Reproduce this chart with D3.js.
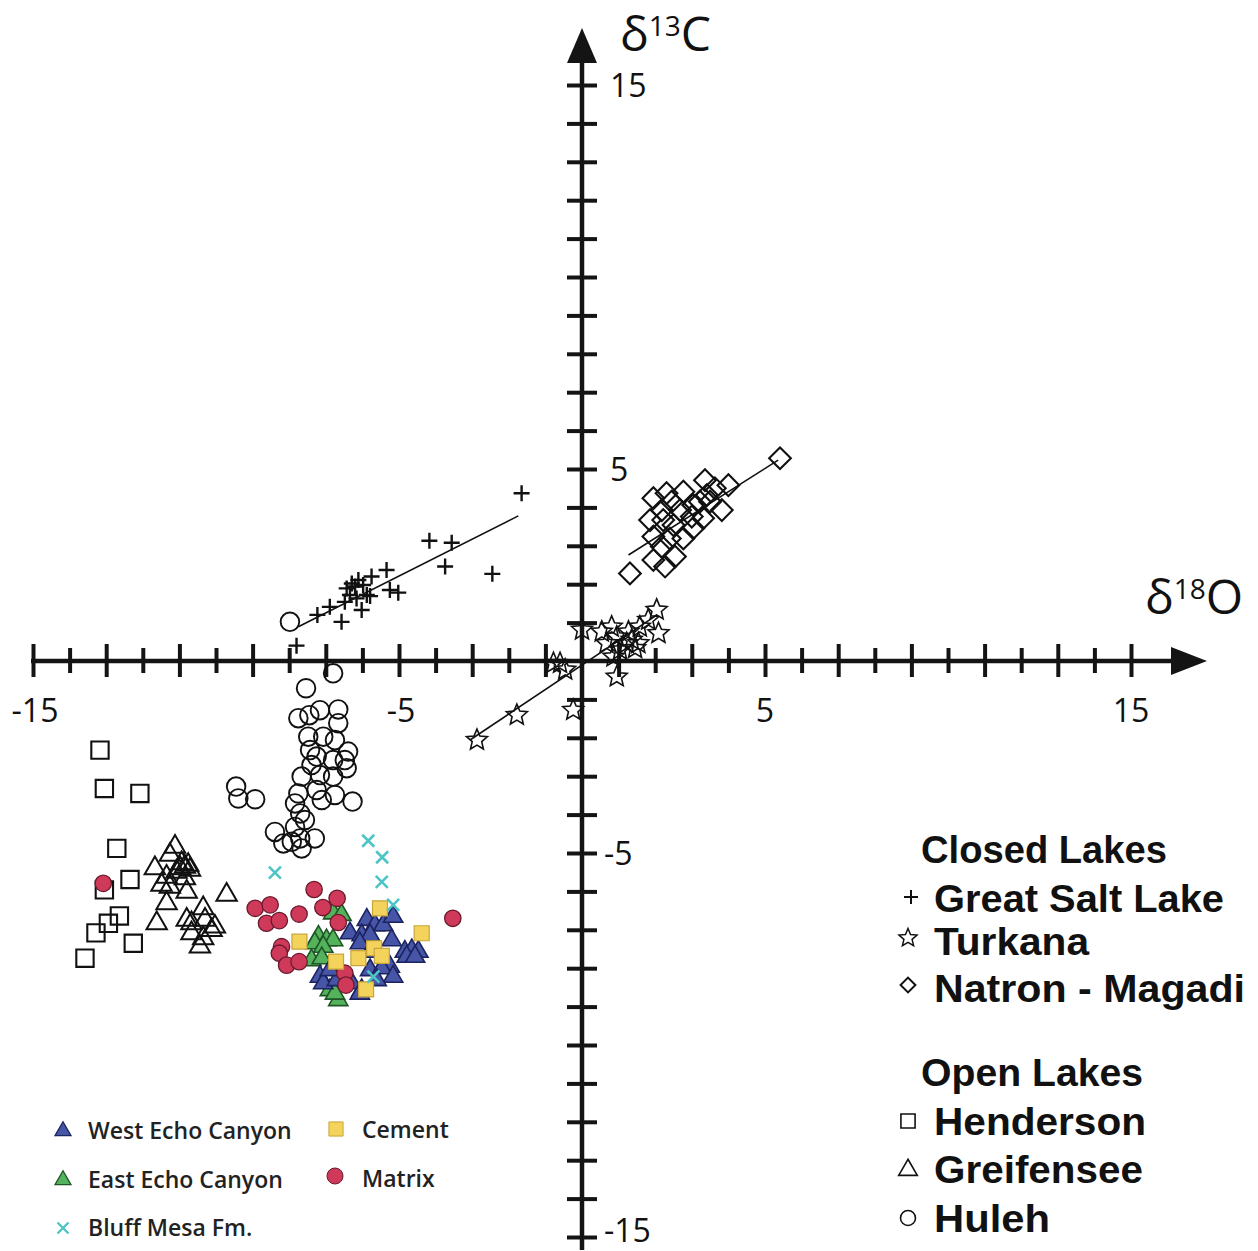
<!DOCTYPE html>
<html><head><meta charset="utf-8">
<script src="https://cdn.jsdelivr.net/npm/d3@7"></script>
<style>html,body{margin:0;padding:0;background:#fff;} svg{display:block;}</style>
</head><body>
<svg id="chart" width="1258" height="1251"></svg>
<script>
// ---------------- DATA (δ18O, δ13C) ----------------
const greatSaltLake = [[-1.65,4.37],[-4.17,3.13],[-3.56,3.08],[-3.74,2.46],[-2.45,2.27],[-5.34,2.37],[-5.75,2.20],[-6.11,2.11],[-6.43,1.89],[-6.20,1.94],[-5.98,1.98],[-5.88,1.72],[-6.34,1.72],[-6.16,1.63],[-6.48,1.54],[-6.02,1.33],[-5.25,1.85],[-5.02,1.78],[-6.89,1.41],[-7.23,1.20],[-6.57,1.02],[-7.80,0.40],[-6.29,2.02],[-5.79,1.69]];
const gslLine = [[-7.75,0.89],[-1.74,3.78]];

const turkana = [[2.04,1.33],[2.09,0.72],[1.81,1.07],[1.58,0.89],[1.54,0.46],[1.27,0.76],[1.22,0.46],[0.95,0.63],[0.81,0.89],[0.67,0.46],[1.04,0.29],[0.86,0.11],[0.54,0.76],[0.0,0.81],[0.95,-0.41],[-0.24,-1.28],[-0.60,-0.06],[-0.78,-0.06],[-0.46,-0.23],[1.36,0.55],[1.45,0.33],[-1.78,-1.41],[-2.87,-2.06]];
const turkanaLine = [[-3.05,-2.05],[2.05,1.2]];

const natron = [[5.41,5.28],[4.0,4.58],[3.36,4.71],[3.63,4.50],[3.82,3.93],[3.41,4.32],[3.22,4.15],[3.04,4.06],[2.77,4.41],[2.31,4.37],[1.95,4.24],[2.45,4.15],[2.18,3.93],[2.68,3.93],[3.0,3.76],[3.31,3.72],[1.86,3.67],[2.22,3.67],[2.50,3.54],[3.04,3.46],[1.95,3.24],[2.40,3.19],[2.77,3.19],[2.18,2.98],[1.95,2.63],[2.27,2.46],[2.54,2.72],[1.31,2.28],[3.5,4.15]];
const natronLine = [[1.27,2.76],[5.36,5.23]];

const henderson = [[-13.17,-2.32],[-13.05,-3.32],[-12.08,-3.45],[-12.71,-4.88],[-12.35,-5.69],[-13.05,-5.96],[-12.64,-6.64],[-12.94,-6.83],[-13.28,-7.08],[-12.26,-7.35],[-13.58,-7.74]];

const greifensee = [[-11.12,-4.84],[-11.26,-5.05],[-11.67,-5.40],[-10.94,-5.27],[-10.85,-5.36],[-10.76,-5.31],[-11.08,-5.49],[-11.35,-5.62],[-11.49,-5.83],[-10.85,-5.66],[-11.26,-5.88],[-10.80,-6.01],[-11.35,-6.31],[-9.71,-6.09],[-11.62,-6.83],[-10.80,-6.74],[-10.67,-6.83],[-10.35,-6.44],[-10.30,-6.74],[-10.12,-7.01],[-10.03,-6.92],[-10.35,-7.22],[-10.44,-7.44],[-10.67,-7.09],[-10.98,-5.40],[-10.71,-5.44]];

const huleh = [[-7.98,1.02],[-6.80,-0.32],[-7.54,-0.71],[-7.75,-1.49],[-7.45,-1.41],[-7.16,-1.28],[-6.66,-1.26],[-6.66,-1.62],[-7.48,-1.97],[-7.07,-1.97],[-6.75,-2.06],[-7.43,-2.32],[-6.39,-2.36],[-7.25,-2.49],[-6.80,-2.58],[-6.48,-2.58],[-7.39,-2.71],[-6.43,-2.79],[-7.66,-3.01],[-7.16,-2.97],[-6.80,-3.01],[-9.45,-3.27],[-9.39,-3.58],[-8.93,-3.60],[-7.75,-3.45],[-7.25,-3.36],[-7.11,-3.62],[-6.75,-3.49],[-6.27,-3.66],[-7.84,-3.71],[-7.70,-3.97],[-7.57,-4.14],[-8.39,-4.45],[-8.16,-4.75],[-7.93,-4.71],[-7.70,-4.62],[-7.30,-4.62],[-7.84,-4.32],[-7.66,-4.88]];

const bluffMesa = [[-5.84,-4.68],[-5.46,-5.11],[-5.47,-5.75],[-5.16,-6.35],[-8.39,-5.51],[-5.70,-8.22]];

const matrix = [[-13.08,-5.79],[-7.32,-5.95],[-6.69,-6.18],[-7.08,-6.42],[-7.73,-6.59],[-6.66,-6.81],[-8.93,-6.44],[-8.52,-6.35],[-8.62,-6.83],[-8.27,-6.76],[-3.53,-6.70],[-8.21,-7.44],[-8.27,-7.61],[-8.07,-7.92],[-7.73,-7.83],[-6.48,-8.13],[-6.45,-8.44]];

const cement = [[-5.52,-6.44],[-4.38,-7.09],[-7.72,-7.31],[-5.68,-7.48],[-6.11,-7.74],[-5.47,-7.68],[-6.72,-7.83],[-5.90,-8.55]];

const westEcho = [[-5.88,-6.74],[-5.66,-6.88],[-5.43,-6.88],[-5.16,-6.66],[-6.34,-7.09],[-6.02,-7.14],[-5.20,-7.27],[-5.79,-7.14],[-6.07,-7.35],[-4.84,-7.57],[-4.65,-7.53],[-4.47,-7.57],[-4.79,-7.70],[-4.56,-7.70],[-5.25,-7.96],[-5.79,-8.05],[-5.47,-8.00],[-5.16,-8.22],[-7.16,-8.22],[-7.07,-8.39],[-6.70,-8.31],[-6.89,-8.05],[-6.29,-8.39],[-6.02,-8.57],[-6.07,-8.66],[-5.61,-8.31],[-5.79,-7.57]];

const eastEcho = [[-6.80,-6.57],[-6.57,-6.61],[-7.20,-7.18],[-6.98,-7.27],[-6.80,-7.27],[-7.30,-7.35],[-7.07,-7.44],[-7.39,-7.79],[-7.11,-7.74],[-6.89,-8.57],[-6.66,-8.83],[-6.75,-8.66]];

const xTickValues = d3.range(-15, 16).filter(d => d !== 0);
const yTickValues = d3.range(-15, 16).filter(d => d !== 0);
const xTickLabels = [-15, -5, 5, 15];
const yTickLabels = [15, 5, -5, -15];

const closedLakesTitle = "Closed Lakes";
const closedLakesLabels = ["Great Salt Lake", "Turkana", "Natron - Magadi"];
const openLakesTitle = "Open Lakes";
const openLakesLabels = ["Henderson", "Greifensee", "Huleh"];
const sampleLabelsLeft = ["West Echo Canyon", "East Echo Canyon", "Bluff Mesa Fm."];
const sampleLabelsRight = ["Cement", "Matrix"];

// ---------------- CHART ----------------
const svg = d3.select("#chart");
const x = d3.scaleLinear().domain([-15, 15]).range([33, 1131]);
const y = d3.scaleLinear().domain([-15, 15]).range([1237, 85]);
const x0 = x(0), y0 = y(0);
const AX = "#141414";
const FONT = "'Open Sans', 'Noto Sans', sans-serif";
const LFONT = "'Liberation Sans', Arial, sans-serif";

// X axis
const xg = svg.append("g").attr("transform", `translate(0,${y0})`)
  .call(d3.axisBottom(x).tickValues(xTickValues).tickFormat("").tickSizeOuter(0));
xg.select(".domain").remove();
xg.selectAll(".tick line")
  .attr("y1", d => (d % 2 ? -17 : -13)).attr("y2", d => (d % 2 ? 16 : 12))
  .attr("stroke", AX).attr("stroke-width", 4);
svg.append("line").attr("x1", x(-15) - 2).attr("x2", x(15) + 50)
  .attr("y1", y0).attr("y2", y0).attr("stroke", AX).attr("stroke-width", 4.5);
svg.append("path")
  .attr("d", `M${x(15) + 76},${y0}L${x(15) + 40},${y0 - 14}L${x(15) + 40},${y0 + 14}Z`)
  .attr("fill", AX);

// Y axis
const yg = svg.append("g").attr("transform", `translate(${x0},0)`)
  .call(d3.axisLeft(y).tickValues(yTickValues).tickFormat("").tickSizeOuter(0));
yg.select(".domain").remove();
yg.selectAll(".tick line")
  .attr("x1", -15).attr("x2", 15)
  .attr("stroke", AX).attr("stroke-width", 4);
svg.append("line").attr("x1", x0).attr("x2", x0)
  .attr("y1", y(15) - 30).attr("y2", y(-15) + 13).attr("stroke", AX).attr("stroke-width", 4.5);
svg.append("path")
  .attr("d", `M${x0},${y(15) - 57}L${x0 - 15},${y(15) - 22}L${x0 + 15},${y(15) - 22}Z`)
  .attr("fill", AX);

// Tick labels
svg.append("g").selectAll("text").data(xTickLabels).join("text")
  .attr("x", d => x(d) + (d < 0 ? 2 : 0)).attr("y", y0 + 61)
  .attr("text-anchor", "middle").attr("font-family", FONT).attr("font-size", 32)
  .attr("fill", "#111").text(d => d);
svg.append("g").selectAll("text").data(yTickLabels).join("text")
  .attr("x", d => x0 + (d < 0 ? 22 : 28)).attr("y", d => Math.min(y(d) + 12, 1242))
  .attr("text-anchor", "start").attr("font-family", FONT).attr("font-size", 32)
  .attr("fill", "#111").text(d => d);

// Axis titles
function axisTitle(px, py, sup, letter) {
  const t = svg.append("text").attr("x", px).attr("y", py)
    .attr("font-family", FONT).attr("font-size", 48).attr("fill", "#111");
  t.append("tspan").text("δ");
  t.append("tspan").attr("dy", -15).attr("font-size", 28).text(sup);
  t.append("tspan").attr("dy", 15).text(letter);
}
axisTitle(620, 51, "13", "C");
axisTitle(1145, 614, "18", "O");

// Regression lines
const line = d3.line().x(d => x(d[0])).y(d => y(d[1]));
[gslLine, turkanaLine, natronLine].forEach(l =>
  svg.append("path").attr("d", line(l)).attr("fill", "none")
    .attr("stroke", "#111").attr("stroke-width", 1.6));

// Marker shapes
function starPath(R, r) {
  let p = "";
  for (let i = 0; i < 10; i++) {
    const a = -Math.PI / 2 + i * Math.PI / 5, rad = i % 2 ? r : R;
    p += (i ? "L" : "M") + (rad * Math.cos(a)).toFixed(2) + "," + (rad * Math.sin(a)).toFixed(2);
  }
  return p + "Z";
}
const plusPath = s => `M${-s},0H${s}M0,${-s}V${s}`;
const crossPath = s => `M${-s},${-s}L${s},${s}M${-s},${s}L${s},${-s}`;
const triPath = s => d3.symbol(d3.symbolTriangle, s)();
const sqPath = s => d3.symbol(d3.symbolSquare, s)();

function drawPaths(data, d, fill, stroke, sw, rot) {
  svg.append("g").selectAll("path").data(data).join("path")
    .attr("transform", p => `translate(${x(p[0])},${y(p[1])})${rot ? " rotate(45)" : ""}`)
    .attr("d", d).attr("fill", fill).attr("stroke", stroke).attr("stroke-width", sw);
}
function drawCircles(data, r, fill, stroke, sw) {
  svg.append("g").selectAll("circle").data(data).join("circle")
    .attr("cx", p => x(p[0])).attr("cy", p => y(p[1])).attr("r", r)
    .attr("fill", fill).attr("stroke", stroke).attr("stroke-width", sw);
}

// Open-lake / closed-lake data
drawPaths(greatSaltLake, plusPath(8), "none", "#111", 2.4);
drawPaths(turkana, starPath(11, 5), "none", "#111", 1.6);
drawPaths(natron, sqPath(235), "none", "#111", 2.1, true);
drawPaths(henderson, sqPath(300), "none", "#111", 2.1);
drawPaths(greifensee, triPath(180), "none", "#111", 2.0);
drawCircles(huleh, 9.3, "none", "#111", 1.9);

// Sample data
const BLUE = "#4655a6", BLUE_S = "#1b2360";
const GREEN = "#55b25c", GREEN_S = "#1e5626";
const YEL = "#f3d35c", YEL_S = "#c9a53a";
const RED = "#cf3a5a", RED_S = "#6a1a2c";
const CYAN = "#4ec4c6";
drawPaths(eastEcho, triPath(160), GREEN, GREEN_S, 1.6);
drawPaths(westEcho, triPath(160), BLUE, BLUE_S, 1.6);
drawCircles(matrix, 8.2, RED, RED_S, 1.3);
drawPaths(cement, sqPath(225), YEL, YEL_S, 1.2);
drawPaths(bluffMesa, crossPath(6), "none", CYAN, 2.6);

// ---------------- LEGENDS ----------------
// Right legend
const rl = svg.append("g");
const bold = (t, px, py, w) => rl.append("text").attr("x", px).attr("y", py)
  .attr("font-family", LFONT).attr("font-weight", 700).attr("font-size", 38)
  .attr("fill", "#111").attr("textLength", w).attr("lengthAdjust", "spacingAndGlyphs").text(t);
bold(closedLakesTitle, 921, 863, 246);
const closedW = [290, 155, 311];
const closedY = [912, 955, 1002];
closedLakesLabels.forEach((t, i) => bold(t, 934, closedY[i], closedW[i]));
bold(openLakesTitle, 921, 1086, 222);
const openW = [212, 209, 116];
const openY = [1135, 1183, 1232];
openLakesLabels.forEach((t, i) => bold(t, 934, openY[i], openW[i]));

const lsym = (d, cx, cy, sw, rot) => rl.append("path")
  .attr("transform", `translate(${cx},${cy})${rot ? " rotate(45)" : ""}`)
  .attr("d", d).attr("fill", "none").attr("stroke", "#111").attr("stroke-width", sw);
lsym(plusPath(7), 911, 897, 2);
lsym(starPath(9.5, 4.3), 908, 938, 1.5);
lsym(sqPath(110), 908, 985, 2, true);
lsym(sqPath(200), 908, 1121, 1.6);
lsym(triPath(150), 908, 1170, 1.6);
rl.append("circle").attr("cx", 908).attr("cy", 1218).attr("r", 7.5)
  .attr("fill", "none").attr("stroke", "#111").attr("stroke-width", 1.6);

// Left-bottom legend
const ll = svg.append("g");
const ltext = (t, px, py) => ll.append("text").attr("x", px).attr("y", py)
  .attr("font-family", FONT).attr("font-weight", 600).attr("font-size", 23)
  .attr("fill", "#222").text(t);
const leftY = [1139, 1188, 1236];
sampleLabelsLeft.forEach((t, i) => ltext(t, 88, leftY[i]));
sampleLabelsRight.forEach((t, i) => ltext(t, 362, leftY[i] - 1));
const lp = (d, cx, cy, fill, stroke, sw) => ll.append("path")
  .attr("transform", `translate(${cx},${cy})`).attr("d", d)
  .attr("fill", fill).attr("stroke", stroke).attr("stroke-width", sw);
lp(triPath(110), 63, 1131, BLUE, BLUE_S, 1.3);
lp(triPath(110), 63, 1180, GREEN, GREEN_S, 1.3);
lp(crossPath(5.5), 63, 1228, "none", CYAN, 2.4);
lp(sqPath(200), 336, 1129, YEL, YEL_S, 1);
ll.append("circle").attr("cx", 335).attr("cy", 1176).attr("r", 8)
  .attr("fill", RED).attr("stroke", RED_S).attr("stroke-width", 1);
</script>
</body></html>
